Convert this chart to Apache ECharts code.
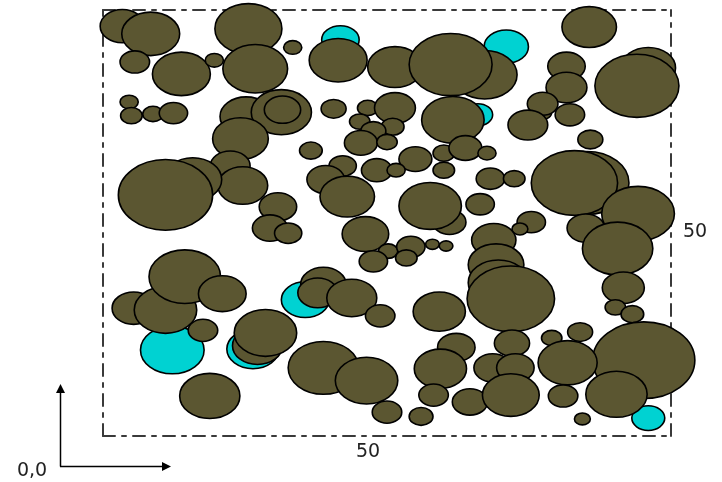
<!DOCTYPE html>
<html>
<head>
<meta charset="utf-8">
<script src="https://cdn.jsdelivr.net/npm/echarts@6/dist/echarts.min.js"></script>
<style>
  html, body { margin: 0; padding: 0; background: #fff; }
  #chart { width: 722px; height: 482px; }
</style>
</head>
<body>
<div id="chart"></div>
<script>
// Stem map of a 50 x 50 plot: crown positions (x, y) and crown diameters (d), in plot units.
// Dead trees (cyan) are drawn first, live trees (olive) on top of them.
const deadX = [20.9, 35.5, 33.0, 17.8, 6.1, 13.2, 48.0];
const deadY = [46.5, 45.7, 37.7, 16.0, 10.1, 10.2, 2.1];
const deadD = [3.3, 3.9, 2.6, 4.2, 5.6, 4.6, 2.9];

const liveX = [
  1.7, 4.2, 12.8, 13.4, 16.7, 2.8, 6.9, 9.8, 20.7, 25.7,
  33.6, 30.6, 42.8, 48.0, 47.0, 40.8, 40.8, 38.6, 38.7, 41.1,
  37.4, 42.9, 2.3, 2.5, 4.4, 6.2, 12.6, 15.7, 15.8, 12.1,
  11.2, 12.3, 7.9, 5.5, 15.4, 14.7, 16.3, 20.3, 23.3, 25.7,
  30.8, 22.6, 25.5, 23.8, 22.7, 25.0, 18.3, 27.5, 30.0, 30.0,
  31.9, 33.8, 24.1, 25.8, 21.1, 19.6, 21.5, 30.5, 28.8, 23.1,
  25.1, 23.8, 27.1, 26.7, 29.0, 30.2, 34.1, 36.2, 33.2, 42.6,
  41.5, 42.5, 47.1, 45.3, 45.8, 37.7, 36.7, 34.4, 34.6, 34.8,
  35.9, 45.1, 46.6, 2.7, 5.5, 7.2, 10.5, 8.8, 9.4, 13.6,
  14.3, 19.4, 18.9, 21.9, 24.4, 29.6, 19.4, 23.2, 25.0, 28.0,
  31.1, 29.7, 29.1, 32.3, 36.0, 34.3, 36.3, 35.9, 39.5, 42.0,
  47.6, 40.9, 45.2, 40.5, 42.2
];
const liveY = [
  48.1, 47.2, 47.8, 43.1, 45.6, 43.9, 42.5, 44.1, 44.1, 43.3,
  42.4, 43.6, 48.0, 43.2, 41.1, 43.4, 40.9, 38.0, 39.0, 37.7,
  36.5, 34.8, 39.2, 37.6, 37.8, 37.9, 37.5, 38.0, 38.3, 34.9,
  31.7, 29.4, 30.1, 28.3, 26.9, 24.4, 23.8, 38.4, 38.5, 38.5,
  37.1, 36.9, 36.3, 35.8, 34.4, 34.5, 33.5, 32.5, 33.2, 31.2,
  33.8, 33.2, 31.2, 31.2, 31.7, 30.1, 28.1, 25.1, 27.0, 23.7,
  21.7, 20.5, 22.2, 20.9, 22.5, 22.3, 30.2, 30.2, 27.2, 29.7,
  29.7, 24.4, 26.1, 22.0, 17.4, 25.1, 24.3, 23.0, 20.1, 18.0,
  16.1, 15.1, 14.3, 15.0, 14.8, 18.7, 16.7, 12.4, 4.7, 10.6,
  12.1, 17.8, 16.8, 16.2, 14.1, 14.6, 8.0, 6.5, 2.8, 2.3,
  10.4, 7.9, 4.8, 4.0, 10.9, 8.0, 8.0, 4.8, 11.5, 12.2,
  8.9, 8.6, 4.9, 4.7, 2.0
];
const liveD = [
  3.9, 5.1, 5.9, 5.7, 1.6, 2.6, 5.1, 1.6, 5.1, 4.8,
  5.7, 7.3, 4.8, 4.8, 7.4, 3.3, 3.6, 1.8, 2.7, 2.6,
  3.5, 2.2, 1.6, 1.9, 1.8, 2.5, 4.6, 5.3, 3.2, 4.9,
  3.5, 4.4, 5.1, 8.3, 3.3, 3.1, 2.4, 2.2, 1.8, 3.6,
  5.5, 1.8, 2.0, 2.2, 2.9, 1.8, 2.0, 2.9, 1.9, 1.9,
  2.9, 1.6, 2.7, 1.6, 2.4, 3.3, 4.8, 2.9, 5.5, 4.1,
  1.7, 2.5, 2.5, 1.9, 1.2, 1.2, 2.5, 1.9, 2.5, 7.4,
  7.6, 3.3, 6.4, 6.2, 3.7, 2.5, 1.4, 3.9, 4.9, 5.3,
  7.7, 1.8, 2.0, 3.8, 5.5, 6.3, 4.2, 2.6, 5.3, 4.4,
  5.5, 4.0, 3.5, 4.4, 2.6, 4.6, 6.2, 5.5, 2.6, 2.1,
  3.3, 4.6, 2.6, 3.1, 3.1, 3.3, 3.3, 5.0, 1.8, 2.2,
  9.0, 5.2, 5.4, 2.6, 1.4
];

const plotSize = 50;
const sideLabel = '50';
const originLabel = '0,0';

const OLIVE = '#5b5631';
const CYAN = '#00d2d2';
const LABEL_FONT = '19px "DejaVu Sans", Verdana, sans-serif';

function rows(xs, ys, ds) {
  return xs.map((x, i) => [x, ys[i], ds[i]]);
}

// Each crown is a circle in plot units; the plot is stretched, so it renders as an ellipse.
function crown(fill) {
  return function (params, api) {
    const c = api.coord([api.value(0), api.value(1)]);
    const s = api.size([api.value(2), api.value(2)]);
    return {
      type: 'ellipse',
      shape: { cx: c[0], cy: c[1], rx: s[0] / 2, ry: s[1] / 2 },
      style: { fill: fill, stroke: '#000', lineWidth: 1.6 }
    };
  };
}

const frameLine = { show: true, onZero: false, lineStyle: { color: '#3a3a3a', width: 2, type: [12, 7, 4, 7] } };
const hiddenParts = { axisTick: { show: false }, axisLabel: { show: false }, splitLine: { show: false } };

function axisAt(pos) {
  return Object.assign({ type: 'value', min: 0, max: plotSize, position: pos, axisLine: frameLine, z: 0 }, hiddenParts);
}

function label(text, x, y) {
  return {
    type: 'text', x: x, y: y, z: 10,
    style: { text: text, fill: '#222', font: LABEL_FONT, align: 'center', verticalAlign: 'middle' }
  };
}

const chart = echarts.init(document.getElementById('chart'), null, { renderer: 'canvas' });
chart.setOption({
  animation: false,
  backgroundColor: '#fff',
  grid: { left: 103, right: 51, top: 10, bottom: 46 },
  xAxis: [axisAt('bottom'), axisAt('top')],
  yAxis: [axisAt('left'), axisAt('right')],
  series: [
    {
      type: 'custom', xAxisIndex: 0, yAxisIndex: 0, clip: false,
      renderItem: crown(CYAN), data: rows(deadX, deadY, deadD), z: 2
    },
    {
      type: 'custom', xAxisIndex: 0, yAxisIndex: 0, clip: false,
      renderItem: crown(OLIVE), data: rows(liveX, liveY, liveD), z: 3
    }
  ],
  graphic: [
    label(sideLabel, 368, 452),
    label(sideLabel, 695, 232),
    label(originLabel, 32, 471),
    // orientation arrows at the plot origin
    { type: 'line', shape: { x1: 60.5, y1: 466.5, x2: 60.5, y2: 390 }, style: { stroke: '#000', lineWidth: 1.5 } },
    { type: 'line', shape: { x1: 60, y1: 466.5, x2: 164, y2: 466.5 }, style: { stroke: '#000', lineWidth: 1.5 } },
    { type: 'polygon', shape: { points: [[60.5, 384], [56, 393], [65, 393]] }, style: { fill: '#000' } },
    { type: 'polygon', shape: { points: [[171, 466.5], [162, 462], [162, 471]] }, style: { fill: '#000' } }
  ]
});
</script>
</body>
</html>
